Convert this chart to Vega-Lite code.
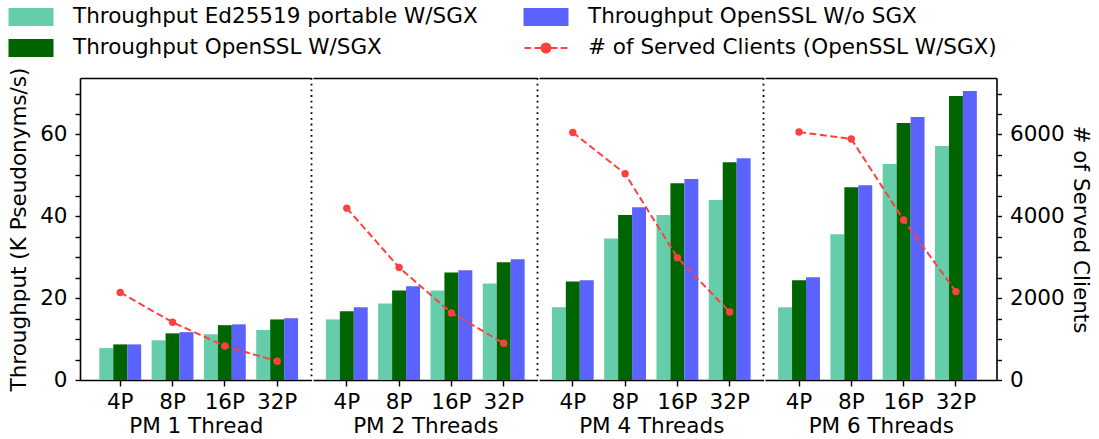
{
  "$schema": "https://vega.github.io/schema/vega-lite/v6.json",
  "padding": {"left": 8, "top": 6, "right": 2, "bottom": 5},
  "spacing": 0,
  "config": {
    "font": "DejaVu Sans",
    "view": {"stroke": null},
    "concat": {"spacing": 0},
    "axis": {"grid": false, "domainColor": "black", "domainWidth": 1.6, "tickColor": "black", "tickWidth": 1.4, "labelColor": "black", "labelFontSize": 21.5, "titleFontSize": 21.5, "titleFontWeight": "normal", "titleColor": "black", "labelFont": "DejaVu Sans", "titleFont": "DejaVu Sans"}
  },
  "data": {"values": [
    {"group": "PM 1 Thread", "P": "4P", "series": "Throughput Ed25519 portable W/SGX", "value": 7.8},
    {"group": "PM 1 Thread", "P": "8P", "series": "Throughput Ed25519 portable W/SGX", "value": 9.7},
    {"group": "PM 1 Thread", "P": "16P", "series": "Throughput Ed25519 portable W/SGX", "value": 11.2},
    {"group": "PM 1 Thread", "P": "32P", "series": "Throughput Ed25519 portable W/SGX", "value": 12.2},
    {"group": "PM 1 Thread", "P": "4P", "series": "Throughput OpenSSL W/SGX", "value": 8.7},
    {"group": "PM 1 Thread", "P": "8P", "series": "Throughput OpenSSL W/SGX", "value": 11.4},
    {"group": "PM 1 Thread", "P": "16P", "series": "Throughput OpenSSL W/SGX", "value": 13.4},
    {"group": "PM 1 Thread", "P": "32P", "series": "Throughput OpenSSL W/SGX", "value": 14.8},
    {"group": "PM 1 Thread", "P": "4P", "series": "Throughput OpenSSL W/o SGX", "value": 8.7},
    {"group": "PM 1 Thread", "P": "8P", "series": "Throughput OpenSSL W/o SGX", "value": 11.7},
    {"group": "PM 1 Thread", "P": "16P", "series": "Throughput OpenSSL W/o SGX", "value": 13.6},
    {"group": "PM 1 Thread", "P": "32P", "series": "Throughput OpenSSL W/o SGX", "value": 15.1},
    {"group": "PM 1 Thread", "P": "4P", "series": "# of Served Clients (OpenSSL W/SGX)", "value": 2140},
    {"group": "PM 1 Thread", "P": "8P", "series": "# of Served Clients (OpenSSL W/SGX)", "value": 1410},
    {"group": "PM 1 Thread", "P": "16P", "series": "# of Served Clients (OpenSSL W/SGX)", "value": 830},
    {"group": "PM 1 Thread", "P": "32P", "series": "# of Served Clients (OpenSSL W/SGX)", "value": 460},
    {"group": "PM 2 Threads", "P": "4P", "series": "Throughput Ed25519 portable W/SGX", "value": 14.8},
    {"group": "PM 2 Threads", "P": "8P", "series": "Throughput Ed25519 portable W/SGX", "value": 18.7},
    {"group": "PM 2 Threads", "P": "16P", "series": "Throughput Ed25519 portable W/SGX", "value": 21.9},
    {"group": "PM 2 Threads", "P": "32P", "series": "Throughput Ed25519 portable W/SGX", "value": 23.6},
    {"group": "PM 2 Threads", "P": "4P", "series": "Throughput OpenSSL W/SGX", "value": 16.8},
    {"group": "PM 2 Threads", "P": "8P", "series": "Throughput OpenSSL W/SGX", "value": 21.9},
    {"group": "PM 2 Threads", "P": "16P", "series": "Throughput OpenSSL W/SGX", "value": 26.3},
    {"group": "PM 2 Threads", "P": "32P", "series": "Throughput OpenSSL W/SGX", "value": 28.8},
    {"group": "PM 2 Threads", "P": "4P", "series": "Throughput OpenSSL W/o SGX", "value": 17.8},
    {"group": "PM 2 Threads", "P": "8P", "series": "Throughput OpenSSL W/o SGX", "value": 22.9},
    {"group": "PM 2 Threads", "P": "16P", "series": "Throughput OpenSSL W/o SGX", "value": 26.8},
    {"group": "PM 2 Threads", "P": "32P", "series": "Throughput OpenSSL W/o SGX", "value": 29.5},
    {"group": "PM 2 Threads", "P": "4P", "series": "# of Served Clients (OpenSSL W/SGX)", "value": 4200},
    {"group": "PM 2 Threads", "P": "8P", "series": "# of Served Clients (OpenSSL W/SGX)", "value": 2750},
    {"group": "PM 2 Threads", "P": "16P", "series": "# of Served Clients (OpenSSL W/SGX)", "value": 1640},
    {"group": "PM 2 Threads", "P": "32P", "series": "# of Served Clients (OpenSSL W/SGX)", "value": 900},
    {"group": "PM 4 Threads", "P": "4P", "series": "Throughput Ed25519 portable W/SGX", "value": 17.8},
    {"group": "PM 4 Threads", "P": "8P", "series": "Throughput Ed25519 portable W/SGX", "value": 34.6},
    {"group": "PM 4 Threads", "P": "16P", "series": "Throughput Ed25519 portable W/SGX", "value": 40.3},
    {"group": "PM 4 Threads", "P": "32P", "series": "Throughput Ed25519 portable W/SGX", "value": 44.0},
    {"group": "PM 4 Threads", "P": "4P", "series": "Throughput OpenSSL W/SGX", "value": 24.1},
    {"group": "PM 4 Threads", "P": "8P", "series": "Throughput OpenSSL W/SGX", "value": 40.3},
    {"group": "PM 4 Threads", "P": "16P", "series": "Throughput OpenSSL W/SGX", "value": 48.1},
    {"group": "PM 4 Threads", "P": "32P", "series": "Throughput OpenSSL W/SGX", "value": 53.2},
    {"group": "PM 4 Threads", "P": "4P", "series": "Throughput OpenSSL W/o SGX", "value": 24.4},
    {"group": "PM 4 Threads", "P": "8P", "series": "Throughput OpenSSL W/o SGX", "value": 42.2},
    {"group": "PM 4 Threads", "P": "16P", "series": "Throughput OpenSSL W/o SGX", "value": 49.1},
    {"group": "PM 4 Threads", "P": "32P", "series": "Throughput OpenSSL W/o SGX", "value": 54.2},
    {"group": "PM 4 Threads", "P": "4P", "series": "# of Served Clients (OpenSSL W/SGX)", "value": 6050},
    {"group": "PM 4 Threads", "P": "8P", "series": "# of Served Clients (OpenSSL W/SGX)", "value": 5040},
    {"group": "PM 4 Threads", "P": "16P", "series": "# of Served Clients (OpenSSL W/SGX)", "value": 2990},
    {"group": "PM 4 Threads", "P": "32P", "series": "# of Served Clients (OpenSSL W/SGX)", "value": 1660},
    {"group": "PM 6 Threads", "P": "4P", "series": "Throughput Ed25519 portable W/SGX", "value": 17.8},
    {"group": "PM 6 Threads", "P": "8P", "series": "Throughput Ed25519 portable W/SGX", "value": 35.6},
    {"group": "PM 6 Threads", "P": "16P", "series": "Throughput Ed25519 portable W/SGX", "value": 52.8},
    {"group": "PM 6 Threads", "P": "32P", "series": "Throughput Ed25519 portable W/SGX", "value": 57.2},
    {"group": "PM 6 Threads", "P": "4P", "series": "Throughput OpenSSL W/SGX", "value": 24.4},
    {"group": "PM 6 Threads", "P": "8P", "series": "Throughput OpenSSL W/SGX", "value": 47.1},
    {"group": "PM 6 Threads", "P": "16P", "series": "Throughput OpenSSL W/SGX", "value": 62.8},
    {"group": "PM 6 Threads", "P": "32P", "series": "Throughput OpenSSL W/SGX", "value": 69.4},
    {"group": "PM 6 Threads", "P": "4P", "series": "Throughput OpenSSL W/o SGX", "value": 25.1},
    {"group": "PM 6 Threads", "P": "8P", "series": "Throughput OpenSSL W/o SGX", "value": 47.6},
    {"group": "PM 6 Threads", "P": "16P", "series": "Throughput OpenSSL W/o SGX", "value": 64.3},
    {"group": "PM 6 Threads", "P": "32P", "series": "Throughput OpenSSL W/o SGX", "value": 70.6},
    {"group": "PM 6 Threads", "P": "4P", "series": "# of Served Clients (OpenSSL W/SGX)", "value": 6060},
    {"group": "PM 6 Threads", "P": "8P", "series": "# of Served Clients (OpenSSL W/SGX)", "value": 5890},
    {"group": "PM 6 Threads", "P": "16P", "series": "# of Served Clients (OpenSSL W/SGX)", "value": 3910},
    {"group": "PM 6 Threads", "P": "32P", "series": "# of Served Clients (OpenSSL W/SGX)", "value": 2160}
  ]},
  "hconcat": [
    {
      "width": 231.5, "height": 302,
      "transform": [{"filter": "datum.group === 'PM 1 Thread'"}],
      "layer": [
        {
          "transform": [{"filter": "datum.series !== '# of Served Clients (OpenSSL W/SGX)'"}],
          "mark": {"type": "bar"},
          "encoding": {
            "x": {"field": "P", "type": "nominal", "sort": ["4P", "8P", "16P", "32P"], "scale": {"paddingInner": 0.2, "paddingOuter": 0.313, "align": 0.59},
              "axis": {"orient": "bottom", "title": "PM 1 Thread", "titlePadding": 2, "labelAngle": 0, "tickSize": 6, "labelPadding": 5.5,
                "encode": {"ticks": {"update": {"y": {"value": -6}, "y2": {"value": 6}}}}}},
            "xOffset": {"field": "series", "type": "nominal", "sort": ["Throughput Ed25519 portable W/SGX", "Throughput OpenSSL W/SGX", "Throughput OpenSSL W/o SGX"], "scale": {"paddingInner": 0, "paddingOuter": 0}},
            "y": {"field": "value", "type": "quantitative", "scale": {"domain": [0, 73.8], "nice": false},
              "axis": {"orient": "left", "title": "Throughput (K Pseudonyms/s)",
                "values": [0, 5, 10, 15, 20, 25, 30, 35, 40, 45, 50, 55, 60, 65, 70],
                "labelExpr": "datum.value % 20 === 0 ? '' + datum.value : ''",
                "labelOverlap": false, "labelFlush": false, "tickSize": 5, "labelPadding": 8, "titlePadding": 9,
                "encode": {"ticks": {"update": {"x": {"signal": "datum.value % 20 === 0 ? -5 : 0"}, "x2": {"signal": "datum.value % 20 === 0 ? 5 : 8"}}}}}},
            "color": {"field": "series", "type": "nominal",
              "scale": {"domain": ["Throughput Ed25519 portable W/SGX", "Throughput OpenSSL W/o SGX", "Throughput OpenSSL W/SGX", "# of Served Clients (OpenSSL W/SGX)"], "range": ["#66cdaa", "#5b63fe", "#006400", "#ff4040"]},
              "legend": {
                "orient": "none", "legendX": -60, "legendY": -72,
                "direction": "horizontal", "columns": 2, "title": null,
                "labelFontSize": 21.5, "labelColor": "black", "labelFont": "DejaVu Sans", "labelLimit": 700,
                "symbolSize": 400, "labelOffset": 31, "columnPadding": 42, "rowPadding": 7, "padding": 0,
                "encode": {"symbols": {"update": {
                  "shape": {"signal": "datum.value === '# of Served Clients (OpenSSL W/SGX)' ? 'M-2.15,0H-1.48M-1.15,0H-0.48M0.48,0H1.15M1.48,0H2.15M-0.45,0A0.45,0.45 0 1,0 0.45,0A0.45,0.45 0 1,0 -0.45,0Z' : 'M-2.15,-0.8H2.15V0.8H-2.15Z'"},
                  "size": {"value": 400},
                  "fill": {"scale": "color", "field": "value"},
                  "stroke": {"signal": "datum.value === '# of Served Clients (OpenSSL W/SGX)' ? '#ff4040' : 'transparent'"},
                  "strokeWidth": {"value": 2},
                  "strokeDash": {"value": []},
                  "opacity": {"value": 1}
                }}}
              }}
          }
        },
        {
          "transform": [{"filter": "datum.series === '# of Served Clients (OpenSSL W/SGX)'"}],
          "mark": {"type": "line", "strokeDash": [7, 3.5], "strokeWidth": 2, "point": {"filled": true, "size": 55}},
          "encoding": {
            "x": {"field": "P", "type": "nominal", "sort": ["4P", "8P", "16P", "32P"], "axis": {"orient": "top", "labels": false, "ticks": false, "title": null, "domain": true}},
            "y": {"field": "value", "type": "quantitative", "scale": {"domain": [0, 7380], "nice": false}, "axis": null},
            "color": {"field": "series", "type": "nominal", "scale": {"domain": ["Throughput Ed25519 portable W/SGX", "Throughput OpenSSL W/o SGX", "Throughput OpenSSL W/SGX", "# of Served Clients (OpenSSL W/SGX)"], "range": ["#66cdaa", "#5b63fe", "#006400", "#ff4040"]}}
          }
        },
        {
          "transform": [{"filter": "datum.series === 'Throughput Ed25519 portable W/SGX' && datum.P === '4P'"}],
          "mark": {"type": "rule", "color": "black", "strokeWidth": 1.8, "strokeDash": [1.8, 3.9]},
          "encoding": {"x": {"value": "width"}}
        }
      ],
      "resolve": {"scale": {"y": "independent"}, "axis": {"x": "independent", "y": "independent"}}
    },
    {
      "width": 224.5, "height": 302,
      "transform": [{"filter": "datum.group === 'PM 2 Threads'"}],
      "layer": [
        {
          "transform": [{"filter": "datum.series !== '# of Served Clients (OpenSSL W/SGX)'"}],
          "mark": {"type": "bar"},
          "encoding": {
            "x": {"field": "P", "type": "nominal", "sort": ["4P", "8P", "16P", "32P"], "scale": {"paddingInner": 0.2, "paddingOuter": 0.246},
              "axis": {"orient": "bottom", "title": "PM 2 Threads", "titlePadding": 2, "labelAngle": 0, "tickSize": 6, "labelPadding": 5.5,
                "encode": {"ticks": {"update": {"y": {"value": -6}, "y2": {"value": 6}}}}}},
            "xOffset": {"field": "series", "type": "nominal", "sort": ["Throughput Ed25519 portable W/SGX", "Throughput OpenSSL W/SGX", "Throughput OpenSSL W/o SGX"], "scale": {"paddingInner": 0, "paddingOuter": 0}},
            "y": {"field": "value", "type": "quantitative", "scale": {"domain": [0, 73.8], "nice": false}, "axis": null},
            "color": {"field": "series", "type": "nominal", "scale": {"domain": ["Throughput Ed25519 portable W/SGX", "Throughput OpenSSL W/o SGX", "Throughput OpenSSL W/SGX", "# of Served Clients (OpenSSL W/SGX)"], "range": ["#66cdaa", "#5b63fe", "#006400", "#ff4040"]}}
          }
        },
        {
          "transform": [{"filter": "datum.series === '# of Served Clients (OpenSSL W/SGX)'"}],
          "mark": {"type": "line", "strokeDash": [7, 3.5], "strokeWidth": 2, "point": {"filled": true, "size": 55}},
          "encoding": {
            "x": {"field": "P", "type": "nominal", "sort": ["4P", "8P", "16P", "32P"], "axis": {"orient": "top", "labels": false, "ticks": false, "title": null, "domain": true}},
            "y": {"field": "value", "type": "quantitative", "scale": {"domain": [0, 7380], "nice": false}, "axis": null},
            "color": {"field": "series", "type": "nominal", "scale": {"domain": ["Throughput Ed25519 portable W/SGX", "Throughput OpenSSL W/o SGX", "Throughput OpenSSL W/SGX", "# of Served Clients (OpenSSL W/SGX)"], "range": ["#66cdaa", "#5b63fe", "#006400", "#ff4040"]}}
          }
        },
        {
          "transform": [{"filter": "datum.series === 'Throughput Ed25519 portable W/SGX' && datum.P === '4P'"}],
          "mark": {"type": "rule", "color": "black", "strokeWidth": 1.8, "strokeDash": [1.8, 3.9]},
          "encoding": {"x": {"value": "width"}}
        }
      ],
      "resolve": {"scale": {"y": "independent"}, "axis": {"x": "independent", "y": "independent"}}
    },
    {
      "width": 224.5, "height": 302,
      "transform": [{"filter": "datum.group === 'PM 4 Threads'"}],
      "layer": [
        {
          "transform": [{"filter": "datum.series !== '# of Served Clients (OpenSSL W/SGX)'"}],
          "mark": {"type": "bar"},
          "encoding": {
            "x": {"field": "P", "type": "nominal", "sort": ["4P", "8P", "16P", "32P"], "scale": {"paddingInner": 0.2, "paddingOuter": 0.246},
              "axis": {"orient": "bottom", "title": "PM 4 Threads", "titlePadding": 2, "labelAngle": 0, "tickSize": 6, "labelPadding": 5.5,
                "encode": {"ticks": {"update": {"y": {"value": -6}, "y2": {"value": 6}}}}}},
            "xOffset": {"field": "series", "type": "nominal", "sort": ["Throughput Ed25519 portable W/SGX", "Throughput OpenSSL W/SGX", "Throughput OpenSSL W/o SGX"], "scale": {"paddingInner": 0, "paddingOuter": 0}},
            "y": {"field": "value", "type": "quantitative", "scale": {"domain": [0, 73.8], "nice": false}, "axis": null},
            "color": {"field": "series", "type": "nominal", "scale": {"domain": ["Throughput Ed25519 portable W/SGX", "Throughput OpenSSL W/o SGX", "Throughput OpenSSL W/SGX", "# of Served Clients (OpenSSL W/SGX)"], "range": ["#66cdaa", "#5b63fe", "#006400", "#ff4040"]}}
          }
        },
        {
          "transform": [{"filter": "datum.series === '# of Served Clients (OpenSSL W/SGX)'"}],
          "mark": {"type": "line", "strokeDash": [7, 3.5], "strokeWidth": 2, "point": {"filled": true, "size": 55}},
          "encoding": {
            "x": {"field": "P", "type": "nominal", "sort": ["4P", "8P", "16P", "32P"], "axis": {"orient": "top", "labels": false, "ticks": false, "title": null, "domain": true}},
            "y": {"field": "value", "type": "quantitative", "scale": {"domain": [0, 7380], "nice": false}, "axis": null},
            "color": {"field": "series", "type": "nominal", "scale": {"domain": ["Throughput Ed25519 portable W/SGX", "Throughput OpenSSL W/o SGX", "Throughput OpenSSL W/SGX", "# of Served Clients (OpenSSL W/SGX)"], "range": ["#66cdaa", "#5b63fe", "#006400", "#ff4040"]}}
          }
        },
        {
          "transform": [{"filter": "datum.series === 'Throughput Ed25519 portable W/SGX' && datum.P === '4P'"}],
          "mark": {"type": "rule", "color": "black", "strokeWidth": 1.8, "strokeDash": [1.8, 3.9]},
          "encoding": {"x": {"value": "width"}}
        }
      ],
      "resolve": {"scale": {"y": "independent"}, "axis": {"x": "independent", "y": "independent"}}
    },
    {
      "width": 231.5, "height": 302,
      "transform": [{"filter": "datum.group === 'PM 6 Threads'"}],
      "layer": [
        {
          "transform": [{"filter": "datum.series !== '# of Served Clients (OpenSSL W/SGX)'"}],
          "mark": {"type": "bar"},
          "encoding": {
            "x": {"field": "P", "type": "nominal", "sort": ["4P", "8P", "16P", "32P"], "scale": {"paddingInner": 0.2, "paddingOuter": 0.313, "align": 0.4},
              "axis": {"orient": "bottom", "title": "PM 6 Threads", "titlePadding": 2, "labelAngle": 0, "tickSize": 6, "labelPadding": 5.5,
                "encode": {"ticks": {"update": {"y": {"value": -6}, "y2": {"value": 6}}}}}},
            "xOffset": {"field": "series", "type": "nominal", "sort": ["Throughput Ed25519 portable W/SGX", "Throughput OpenSSL W/SGX", "Throughput OpenSSL W/o SGX"], "scale": {"paddingInner": 0, "paddingOuter": 0}},
            "y": {"field": "value", "type": "quantitative", "scale": {"domain": [0, 73.8], "nice": false}, "axis": null},
            "color": {"field": "series", "type": "nominal", "scale": {"domain": ["Throughput Ed25519 portable W/SGX", "Throughput OpenSSL W/o SGX", "Throughput OpenSSL W/SGX", "# of Served Clients (OpenSSL W/SGX)"], "range": ["#66cdaa", "#5b63fe", "#006400", "#ff4040"]}}
          }
        },
        {
          "transform": [{"filter": "datum.series === '# of Served Clients (OpenSSL W/SGX)'"}],
          "mark": {"type": "line", "strokeDash": [7, 3.5], "strokeWidth": 2, "point": {"filled": true, "size": 55}},
          "encoding": {
            "x": {"field": "P", "type": "nominal", "sort": ["4P", "8P", "16P", "32P"], "axis": {"orient": "top", "labels": false, "ticks": false, "title": null, "domain": true}},
            "y": {"field": "value", "type": "quantitative", "scale": {"domain": [0, 7380], "nice": false},
              "axis": {"orient": "right", "title": "# of Served Clients",
                "values": [0, 500, 1000, 1500, 2000, 2500, 3000, 3500, 4000, 4500, 5000, 5500, 6000, 6500, 7000],
                "labelExpr": "datum.value % 2000 === 0 ? '' + datum.value : ''",
                "labelOverlap": false, "labelFlush": false, "tickSize": 5, "labelPadding": 8, "titlePadding": 4,
                "encode": {"ticks": {"update": {"x": {"signal": "datum.value % 2000 === 0 ? -5 : -8"}, "x2": {"signal": "datum.value % 2000 === 0 ? 5 : 0"}}}}}},
            "color": {"field": "series", "type": "nominal", "scale": {"domain": ["Throughput Ed25519 portable W/SGX", "Throughput OpenSSL W/o SGX", "Throughput OpenSSL W/SGX", "# of Served Clients (OpenSSL W/SGX)"], "range": ["#66cdaa", "#5b63fe", "#006400", "#ff4040"]}}
          }
        }
      ],
      "resolve": {"scale": {"y": "independent"}, "axis": {"x": "independent", "y": "independent"}}
    }
  ]
}
